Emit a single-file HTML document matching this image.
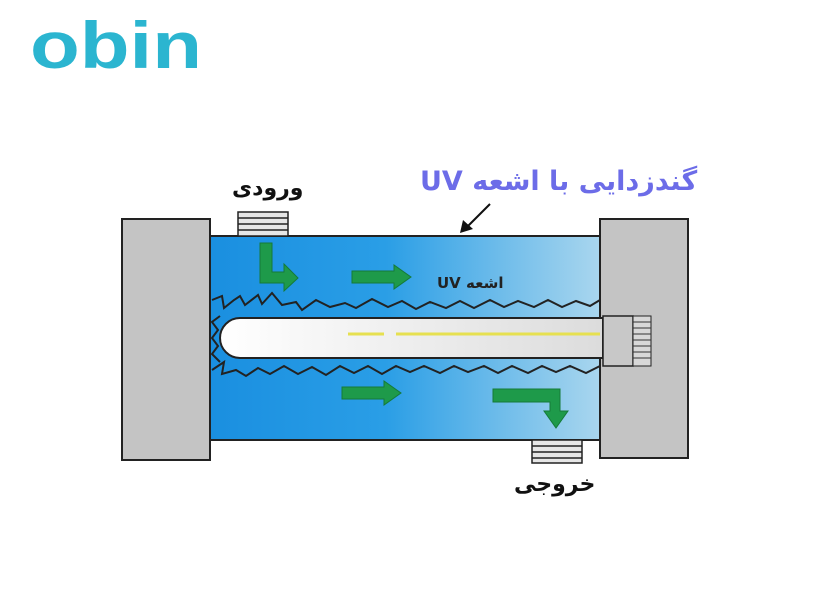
<!DOCTYPE html>
<html><head><meta charset="utf-8"><style>
html,body{margin:0;padding:0;background:#fff;width:814px;height:600px;overflow:hidden;position:relative}
.t{position:absolute;white-space:nowrap;font-family:"DejaVu Sans",sans-serif;font-weight:bold;direction:rtl;unicode-bidi:embed;line-height:1}
</style></head><body>
<svg width="814" height="600" viewBox="0 0 814 600" xmlns="http://www.w3.org/2000/svg" style="position:absolute;left:0;top:0">
<defs>
<linearGradient id="w" x1="0" x2="1" y1="0" y2="0">
<stop offset="0" stop-color="#1a8fe0"/><stop offset="0.45" stop-color="#2a9ee6"/><stop offset="1" stop-color="#a9d6ee"/>
</linearGradient>
<linearGradient id="l" x1="0" x2="1">
<stop offset="0" stop-color="#ffffff"/><stop offset="1" stop-color="#dcdcdc"/>
</linearGradient>
</defs>
<text x="30" y="68" font-family="Liberation Sans, sans-serif" font-weight="bold" font-size="66" fill="#2bb5d0" textLength="172" lengthAdjust="spacingAndGlyphs">obin</text>
<rect x="122" y="219" width="88" height="241" fill="#c4c4c4" stroke="#222" stroke-width="2"/>
<rect x="600" y="219" width="88" height="239" fill="#c4c4c4" stroke="#222" stroke-width="2"/>
<rect x="210" y="236" width="390" height="204" fill="url(#w)" stroke="#222" stroke-width="2"/>
<g fill="#e6e6e6" stroke="#222" stroke-width="1.5">
<rect x="238" y="212" width="50" height="24"/>
<rect x="532" y="440" width="50" height="23"/>
</g>
<g stroke="#222" stroke-width="1.5">
<line x1="238" y1="218" x2="288" y2="218"/><line x1="238" y1="224" x2="288" y2="224"/><line x1="238" y1="230" x2="288" y2="230"/>
<line x1="532" y1="446" x2="582" y2="446"/><line x1="532" y1="452" x2="582" y2="452"/><line x1="532" y1="458" x2="582" y2="458"/>
</g>
<polyline fill="none" stroke="#222" stroke-width="2" points="212,300 222,296 224,308 234,300 240,296 245,305 258,295 262,304 272,293 282,305 296,302 302,310 316,300 330,307 345,303 356,308 372,299 388,307 402,301 416,309 430,302 446,308 460,301 474,308 490,300 504,307 518,301 534,307 548,300 562,307 576,301 590,306 600,300"/>
<polyline fill="none" stroke="#222" stroke-width="2" points="212,370 224,362 222,374 236,370 246,376 258,368 270,374 284,366 298,374 312,367 326,375 340,366 354,373 368,366 382,374 396,366 410,372 424,366 440,373 454,366 468,372 484,366 498,373 512,366 528,373 542,366 556,372 570,366 586,373 600,366"/>
<polyline fill="none" stroke="#222" stroke-width="2" points="220,316 212,322 218,330 212,338 218,346 212,354 220,362"/>
<path d="M240,318 H603 V358 H240 A20,20 0 0 1 240,318 Z" fill="url(#l)" stroke="#222" stroke-width="2"/>
<rect x="603" y="316" width="30" height="50" fill="#c8c8c8" stroke="#222" stroke-width="1.5"/>
<rect x="633" y="316" width="18" height="50" fill="#d8d8d8" stroke="#222" stroke-width="1"/>
<g stroke="#333" stroke-width="1"><line x1="633" y1="322" x2="651" y2="322"/><line x1="633" y1="328" x2="651" y2="328"/><line x1="633" y1="334" x2="651" y2="334"/><line x1="633" y1="340" x2="651" y2="340"/><line x1="633" y1="346" x2="651" y2="346"/><line x1="633" y1="352" x2="651" y2="352"/><line x1="633" y1="358" x2="651" y2="358"/></g>
<line x1="348" y1="334" x2="384" y2="334" stroke="#e6e050" stroke-width="3"/>
<line x1="396" y1="334" x2="600" y2="334" stroke="#e6e050" stroke-width="3"/>
<g fill="#1e9a4a" stroke="#157a38" stroke-width="1">
<path d="M260,243 H272 V272 H284 V264 L298,278 L284,291 V283 H260 Z"/>
<path d="M352,271 H394 V265 L411,277 L394,289 V283 H352 Z"/>
<path d="M342,387 H384 V381 L401,393 L384,405 V399 H342 Z"/>
<path d="M493,389 H560 V411 H568 L556,428 L544,411 H550 V402 H493 Z"/>
</g>
<line x1="490" y1="204" x2="468" y2="226" stroke="#111" stroke-width="2"/>
<path d="M460,233 L463,220 L473,229 Z" fill="#111"/>
</svg>
<div class="t" style="left:437px;top:276px;font-size:15px;color:#222">اشعه UV</div>
<div class="t" style="left:232px;top:178px;font-size:22px;color:#111">ورودی</div>
<div class="t" style="left:514px;top:474px;font-size:22px;color:#111">خروجی</div>
<div class="t" style="left:420px;top:168px;font-size:27px;color:#6c6ce8">گندزدایی با اشعه UV</div>
</body></html>
